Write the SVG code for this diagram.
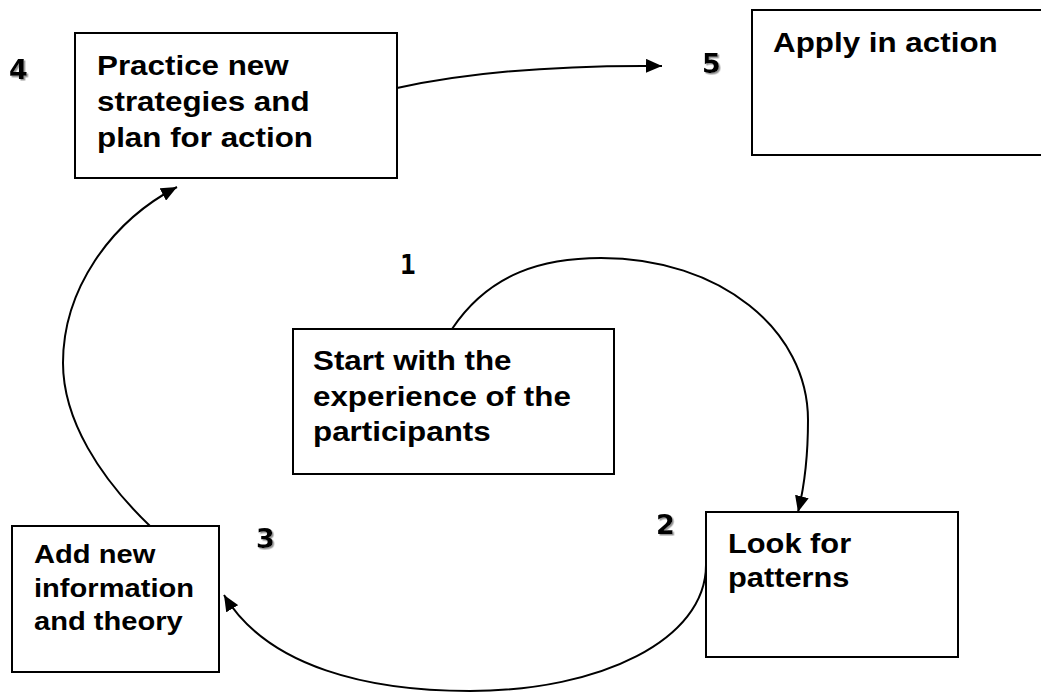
<svg xmlns="http://www.w3.org/2000/svg" width="1041" height="693" viewBox="0 0 1041 693">
  <defs>
    <style>
      .box { fill: #ffffff; stroke: #000000; stroke-width: 2; }
      .lbl { font-family: "Liberation Sans", Arial, sans-serif; font-weight: bold; font-size: 28px; fill: #000000; }
      .lbl26 { font-size: 26px; }
      .num { font-family: "DejaVu Sans", "Liberation Sans", sans-serif; font-weight: bold; font-size: 27px; fill: #000000; filter: url(#shadow); }
      .num1 { font-family: "DejaVu Sans Mono", "Liberation Mono", monospace; font-weight: bold; font-size: 26px; fill: #000000; }
      .conn { fill: none; stroke: #000000; stroke-width: 2; marker-end: url(#arrow); }
    </style>
    <marker id="arrow" markerUnits="userSpaceOnUse" markerWidth="17" markerHeight="14" refX="16" refY="7" orient="auto">
      <path d="M0,0 L16,7 L0,14 z" fill="#000000"/>
    </marker>
    <filter id="shadow" x="-20%" y="-20%" width="160%" height="160%">
      <feDropShadow dx="1.5" dy="1.5" stdDeviation="0.6" flood-color="#888888" flood-opacity="0.9"/>
    </filter>
  </defs>

  <rect width="1041" height="693" fill="#ffffff"/>

  <g id="connectors">
    <path class="conn" d="M397,88 C470,72 560,65 662,66"/>
    <path class="conn" d="M452,329 C490,272 545,258 601,258 C720,258 808,330 808,420 C808,460 804,488 798,512"/>
    <path class="conn" d="M706,565 C706,640 600,691 470,691 C370,691 268,668 224,595"/>
    <path class="conn" d="M150,526 C100,478 63,420 63,363 C63,290 110,222 177,187"/>
  </g>

  <g id="node-4">
    <rect class="box" x="75" y="33" width="322" height="145"/>
    <text class="lbl" transform="translate(97,75) scale(1.12,1)"><tspan x="0" y="0">Practice new</tspan><tspan x="0" y="36">strategies and</tspan><tspan x="0" y="72">plan for action</tspan></text>
    <text class="num" x="9" y="79">4</text>
  </g>

  <g id="node-5">
    <rect class="box" x="752" y="10" width="300" height="145"/>
    <text class="lbl" transform="translate(773,52) scale(1.12,1)">Apply in action</text>
    <text class="num" x="702" y="73">5</text>
  </g>

  <g id="node-1">
    <rect class="box" x="293" y="329" width="321" height="145"/>
    <text class="lbl" transform="translate(313,370) scale(1.12,1)"><tspan x="0" y="0">Start with the</tspan><tspan x="0" y="36">experience of the</tspan><tspan x="0" y="71">participants</tspan></text>
    <text class="num1" x="400" y="274">1</text>
  </g>

  <g id="node-2">
    <rect class="box" x="706" y="512" width="252" height="145"/>
    <text class="lbl" transform="translate(728,553) scale(1.1,1)"><tspan x="0" y="0">Look for</tspan><tspan x="0" y="34">patterns</tspan></text>
    <text class="num" x="656" y="534">2</text>
  </g>

  <g id="node-3">
    <rect class="box" x="12" y="526" width="207" height="146"/>
    <text class="lbl lbl26" transform="translate(34,563) scale(1.12,1)"><tspan x="0" y="0">Add new</tspan><tspan x="0" y="34">information</tspan><tspan x="0" y="67">and theory</tspan></text>
    <text class="num" x="256" y="548">3</text>
  </g>
</svg>
